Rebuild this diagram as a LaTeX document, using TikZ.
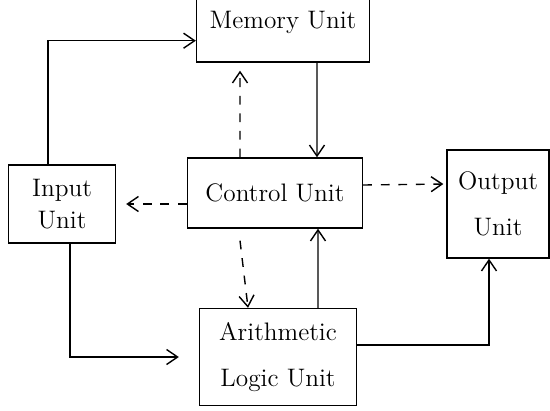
\documentclass[tikz,border=0pt]{standalone}
\usepackage{tikz}
\usetikzlibrary{arrows.meta, positioning}

\begin{document}
\begin{tikzpicture}[x=0.02cm, y=-0.02cm, font=\Large,
    unit/.style={rectangle, draw, thick, align=center},
    flow/.style={->, thick, >={Straight Barb[length=2.2mm, width=3mm]}},
    signal/.style={flow, dashed, dash pattern=on 5pt off 5pt}]
    \clip (0,0) rectangle (550,410);

    % Units
    \node[unit, minimum width=3.46cm, minimum height=1.6cm] (mem) at (283,22) {Memory Unit};
    \node[unit, minimum width=3.5cm, minimum height=1.4cm] (ctrl) at (275,193) {Control Unit};
    \node[unit, minimum width=2.14cm, minimum height=1.56cm] (inp) at (62,204) {Input\\ Unit};
    \node[unit, minimum width=2.04cm, minimum height=2.16cm] (out) at (498,204) {Output\\[8pt] Unit};
    \node[unit, minimum width=3.14cm, minimum height=1.94cm] (alu) at (278,357) {Arithmetic\\[8pt] Logic Unit};

    % Data paths
    \draw[flow] ([xshift=-0.28cm]inp.north) |- ([yshift=0.44cm]mem.south west);
    \draw[flow] ([xshift=0.68cm]mem.south) -- ([xshift=0.84cm]ctrl.north);
    \draw[flow] ([xshift=0.16cm]inp.south) |- ([xshift=-0.4cm]alu.west);
    \draw[flow] ([xshift=0.8cm]alu.north) -- ([xshift=0.86cm]ctrl.south);
    \draw[flow] ([yshift=0.24cm]alu.east) -| ([xshift=-0.18cm]out.south);

    % Control signals
    \draw[signal] ([xshift=-0.7cm]ctrl.north) -- ([xshift=-0.86cm, yshift=-0.16cm]mem.south);
    \draw[signal] (ctrl.west |- inp.east) -- ([xshift=0.2cm]inp.east);
    \draw[signal] ([yshift=0.16cm]ctrl.east) -- ([yshift=0.4cm, xshift=-0.06cm]out.west);
    \draw[signal] ([xshift=-0.7cm, yshift=-0.24cm]ctrl.south) -- ([xshift=-0.6cm]alu.north);
\end{tikzpicture}
\end{document}
